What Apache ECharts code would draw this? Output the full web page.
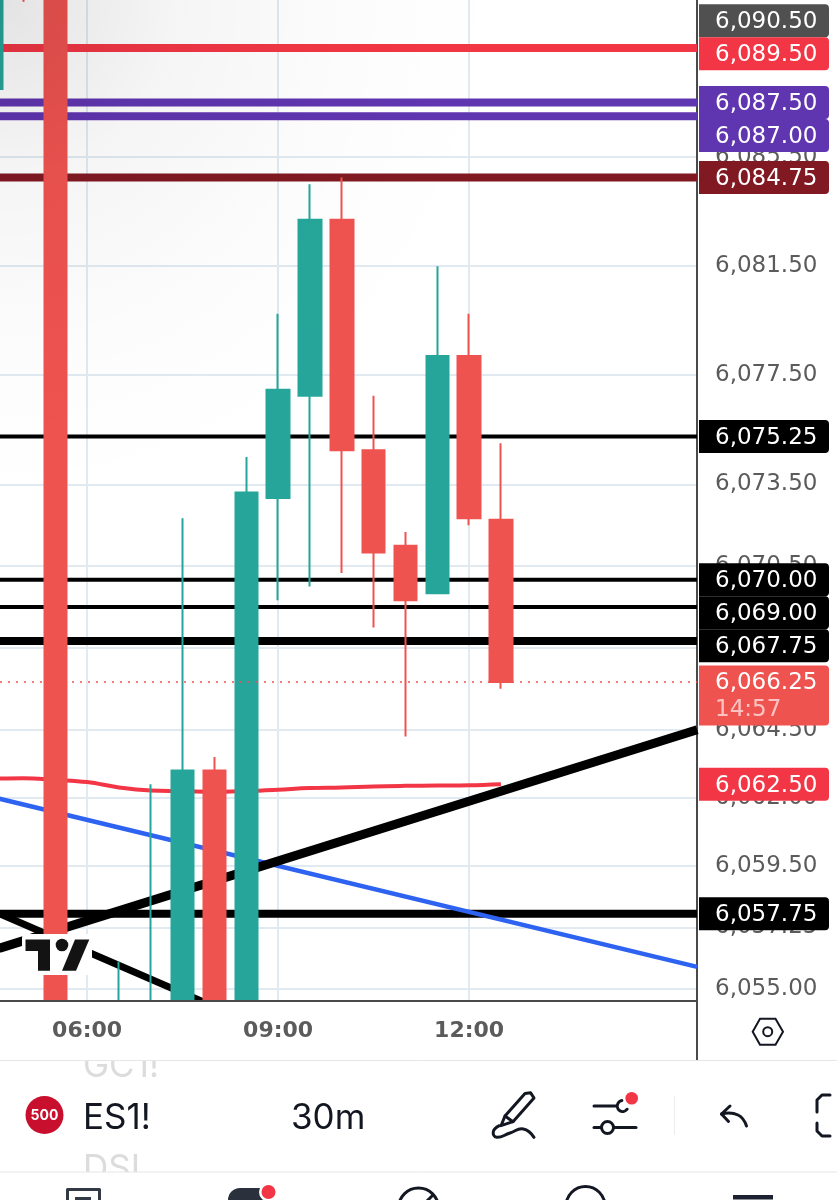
<!DOCTYPE html>
<html><head><meta charset="utf-8">
<style>html,body{margin:0;padding:0;background:#fff}#c{width:837px;height:1200px}</style>
<script src="https://cdn.jsdelivr.net/npm/echarts@6/dist/echarts.min.js"></script>
</head><body><div id="c"></div>
<script>
// ---- data ----
const times  = ['04:30','05:00','05:30','06:00','06:30','07:00','07:30','08:00','08:30','09:00','09:30','10:00','10:30','11:00','11:30','12:00','12:30'];
const opens  = [6088.0,6094.0,6091.25,6048.0,6053.0,6053.0,6053.0,6063.0,6053.0,6073.0,6076.75,6083.2,6074.75,6071.25,6069.5,6078.2,6072.2];
const closes = [6095.0,6092.5,6053.0,6046.0,6053.5,6053.5,6063.0,6053.0,6073.2,6076.97,6083.2,6074.75,6071.0,6069.25,6078.2,6072.25,6066.25];
const lows   = [6087.0,6091.2,6053.0,6045.0,6053.0,6053.0,6053.0,6053.0,6053.0,6069.25,6069.75,6070.25,6068.25,6064.25,6069.5,6072.0,6066.0];
const highs  = [6097.0,6095.0,6091.25,6049.0,6056.0,6062.5,6072.25,6063.5,6074.5,6079.75,6084.5,6084.75,6076.75,6071.75,6081.5,6079.75,6075.0];
const maLine = [6062.7,6062.72,6062.66,6062.58,6062.38,6062.27,6062.25,6062.22,6062.25,6062.3,6062.36,6062.38,6062.42,6062.44,6062.45,6062.46,6062.5];

const levelValues = [6089.5,6087.5,6087.0,6084.75,6075.25,6070.0,6069.0,6067.75,6057.75];
const levelColors = ['#f23645','#6035b0','#6035b0','#801922','#000','#000','#000','#000','#000'];
const levelWidths = [8,8,8,8,4,4,4,8,8];
const lastPrice = 6066.25;
const lastCountdown = '14:57';

const trendBlue  = [['04:37',6061.97],['15:35',6055.8]];
const trendUp    = [['04:37',6056.48],['15:35',6064.5]];
const trendDown  = [['04:37',6057.76],['08:00.6',6054.33]];

const priceTicks = [6085.5,6081.5,6077.5,6073.5,6070.5,6067.5,6064.5,6062.0,6059.5,6057.25,6055.0];
const timeTicks  = ['06:00','09:00','12:00'];

const tagValues  = [6090.5,6089.5,6087.5,6087.0,6084.75,6075.25,6070.0,6069.0,6067.75,6066.25,6062.5,6057.75];
const tagColors  = ['#505050','#f23645','#6035b0','#6035b0','#801922','#000','#000','#000','#000','#ef5350','#f23645','#000'];

// ---- scales ----
const toMin = s => { const p = s.split(':'); return +p[0]*60 + parseFloat(p[1]); };
const xMin = 277.9, xMax = 934.8, yMin = 6054.55, yMax = 6091.26;
const fmtPrice = v => v.toLocaleString('en-US',{minimumFractionDigits:2,maximumFractionDigits:2});
const fmtTime = m => String(Math.floor(m/60)).padStart(2,'0')+':'+String(m%60).padStart(2,'0');
const UI = 'Inter, "Liberation Sans", sans-serif';
const NUM = '"DejaVu Sans", sans-serif';
const INK = '#131722', TICK = '#5b5b5b', GRID = '#e1e9f1';

const candleData = times.map((t,i)=>[toMin(t),opens[i],closes[i],lows[i],highs[i]]);
const lineSeries = (data,color,width,extra) => Object.assign({type:'line',data,symbol:'none',silent:true,z:1,
  lineStyle:{color,width,cap:'butt'},animation:false},extra||{});
const conv = arr => arr.map(p=>[toMin(p[0]),p[1]]);

const series = [];
levelValues.forEach((v,i)=>series.push(lineSeries([[xMin,v],[xMax,v]],levelColors[i],levelWidths[i])));
series.push(lineSeries(conv(trendBlue),'#2d63f0',4.5));
series.push(lineSeries(conv(trendDown),'#000',7));
series.push(lineSeries(conv(trendUp),'#000',9));
series.push(lineSeries(times.map((t,i)=>[toMin(t),maLine[i]]),'#f23645',4,{smooth:0.4}));
series.push({type:'candlestick',data:candleData,encode:{x:0,y:[1,2,3,4]},barWidth:23,z:3,silent:true,
  itemStyle:{color:'#26a69a',color0:'#ef5350',borderColor:'#26a69a',borderColor0:'#ef5350',borderWidth:2}});
series.push(lineSeries([[xMin,lastPrice],[xMax,lastPrice]],'#ef5350',1.5,{z:4,lineStyle:{color:'#ef5350',width:1.5,type:[2,6]}}));

// price tags: pushed down so they never overlap the tag above, as on the platform's scale
let nextFree = -1e9;
series.push({type:'custom',z:6,silent:true,clip:false,
  data:tagValues.map(v=>[xMax,v]),encode:{x:0,y:1},
  renderItem(params,api){
    if(params.dataIndex===0) nextFree=-1e9;
    const v=api.value(1), p=api.coord([xMax,v]);
    const cy=Math.max(p[1],nextFree+16.5);
    const isLast=v===lastPrice;
    nextFree=cy+16.5;
    const top=cy-16.5, h=isLast?60:33;
    const x=p[0]+2;
    const kids=[
      {type:'rect',shape:{x,y:top,width:130,height:h,r:[0,4,4,0]},style:{fill:tagColors[params.dataIndex]}},
      {type:'text',style:{x:715,y:cy+1.5,text:fmtPrice(v),fill:'#fff',font:'23px '+NUM,align:'left',verticalAlign:'middle'}}
    ];
    if(isLast) kids.push({type:'text',style:{x:715,y:cy+28,text:lastCountdown,fill:'#fbc4c2',font:'23px '+NUM,align:'left',verticalAlign:'middle'}});
    return {type:'group',children:kids};
  }});

// ---- chrome (app toolbar, logo) ----
const stroke=(w,c)=>({stroke:c||INK,lineWidth:w,fill:null,lineCap:'round',lineJoin:'round'});
const poly=(points,w,c,smooth)=>({type:'polyline',shape:{points,smooth:smooth||0},style:stroke(w,c),z:20});
const text=(x,y,t,font,fill,align)=>({type:'text',z:20,x,y,style:{text:t,font,fill,textAlign:align||'left',textVerticalAlign:'middle'}});
const graphicEls=[
  // bars running past the bottom of the plot end at the axis
  {type:'rect',z:5,silent:true,shape:{x:0,y:1001,width:696,height:59},style:{fill:'#fff'}},
  {type:'rect',z:19,shape:{x:0,y:0,width:697,height:560},silent:true,style:{fill:new echarts.graphic.RadialGradient(0,0,500,[{offset:0,color:'rgba(0,0,0,0.11)'},{offset:0.35,color:'rgba(0,0,0,0.04)'},{offset:0.7,color:'rgba(0,0,0,0.012)'},{offset:1,color:'rgba(0,0,0,0)'}],true)}},
  // logo
  {type:'rect',z:20,shape:{x:22,y:934,width:70,height:41,r:4},style:{fill:'#fff'}},
  {type:'polygon',z:21,shape:{points:[[25.5,939.5],[50,939.5],[50,970.7],[38,970.7],[38,951],[25.5,951]]},style:{fill:'#131313'}},
  {type:'circle',z:21,shape:{cx:62,cy:945,r:6.3},style:{fill:'#131313'}},
  {type:'polygon',z:21,shape:{points:[[75,939.5],[89.3,939.5],[76,970.7],[62,970.7]]},style:{fill:'#131313'}},
  // axis extension + hexagon
  {type:'line',z:20,shape:{x1:697,y1:1001,x2:697,y2:1060},style:{stroke:'#4a4a4a',lineWidth:2}},
  {type:'polygon',z:20,shape:{points:[[752.7,1031.7],[760,1018.7],[775.5,1018.7],[783,1031.7],[775.5,1044.7],[760,1044.7]]},style:{stroke:INK,lineWidth:2,fill:null}},
  {type:'circle',z:20,shape:{cx:767.7,cy:1031.7,r:4.5},style:{stroke:INK,lineWidth:2,fill:null}},
  // faded list names, clipped by the toolbar rules
  text(83,1066,'GC1!','35px '+UI,'#dcdcdc'),
  {type:'rect',z:21,shape:{x:70,y:1044,width:100,height:16},style:{fill:'#fff'}},
  text(83,1169,'DSI','35px '+UI,'#dcdcdc'),
  {type:'rect',z:21,shape:{x:70,y:1172,width:100,height:16},style:{fill:'#fff'}},
  {type:'line',z:22,shape:{x1:0,y1:1060.5,x2:837,y2:1060.5},style:{stroke:'#e6e6e6',lineWidth:1}},
  {type:'line',z:22,shape:{x1:0,y1:1172,x2:837,y2:1172},style:{stroke:'#e6e6e6',lineWidth:1}},
  // symbol row
  {type:'circle',z:20,shape:{cx:44.5,cy:1115,r:19},style:{fill:'#c8102e'}},
  text(44.5,1115.5,'500','bold 14px '+UI,'#fff','center'),
  text(83,1118,'ES1!','35px '+UI,INK),
  text(291,1118,'30m','35px '+UI,INK),
  // pencil
  poly([[505,1116],[525,1093.5],[530.5,1092.7],[534,1098],[513,1121.7],[501,1125.7],[505,1116]],3),
  poly([[505,1116],[513,1121.7]],3),
  poly([[499.3,1125.7],[493.3,1131.7],[496.7,1137.3],[510,1133],[523.3,1129],[534,1137.3]],3,INK,0.5),
  // sliders
  poly([[594,1106],[616,1106]],3),
  {type:'arc',z:20,shape:{cx:622.7,cy:1106,r:5.5,startAngle:Math.PI*0.2,endAngle:Math.PI*1.45,clockwise:true},style:stroke(3)},
  {type:'circle',z:21,shape:{cx:631.7,cy:1098.3,r:6.3},style:{fill:'#f23645'}},
  poly([[594,1127.5],[636,1127.5]],3),
  {type:'circle',z:21,shape:{cx:607.5,cy:1127.5,r:6},style:{fill:'#fff',stroke:INK,lineWidth:3}},
  {type:'line',z:20,shape:{x1:674.5,y1:1096,x2:674.5,y2:1135},style:{stroke:'#ececec',lineWidth:1}},
  // undo
  poly([[730,1106],[721.5,1114],[728.5,1121.5]],3),
  poly([[721.5,1114],[738,1115],[746.5,1126]],3,INK,0.5),
  // bracket
  poly([[830,1095],[822,1095],[817,1100],[817,1112]],3),
  poly([[817,1123],[817,1131],[822,1136],[830,1136]],3),
  // tab bar, cut off by the bottom of the image
  poly([[67.5,1204],[67.5,1189.5],[99.5,1189.5],[99.5,1204]],3,'#333a45'),
  {type:'rect',z:20,shape:{x:75,y:1197,width:16,height:7},style:{fill:'#333a45'}},
  {type:'rect',z:20,shape:{x:228,y:1188,width:36,height:24,r:[12,4,0,12]},style:{fill:'#2a303c'}},
  {type:'circle',z:21,shape:{cx:268.5,cy:1192,r:9.5},style:{fill:'#fff'}},
  {type:'circle',z:22,shape:{cx:268.5,cy:1192,r:7},style:{fill:'#f23645'}},
  {type:'circle',z:20,shape:{cx:418.5,cy:1208,r:20},style:stroke(3)},
  poly([[424,1204],[433,1195]],3),
  {type:'circle',z:20,shape:{cx:585.5,cy:1206,r:19.5},style:stroke(3)},
  {type:'rect',z:20,shape:{x:733,y:1195,width:40,height:4.5},style:{fill:'#1c2230'}}
];

const chart = echarts.init(document.getElementById('c'),null,{renderer:'canvas'});
chart.setOption({
  animation:false,
  backgroundColor:'#fff',
  grid:{left:0,right:140,top:0,bottom:199,containLabel:false},
  xAxis:[
    {type:'value',min:xMin,max:xMax,position:'bottom',
      axisLine:{show:false},axisLabel:{show:false},
      axisTick:{show:false,customValues:timeTicks.map(toMin)},
      splitLine:{show:true,lineStyle:{color:GRID,width:2}}},
    {type:'value',min:xMin,max:xMax,position:'bottom',z:10,offset:0,
      axisLine:{show:true,onZero:false,lineStyle:{color:'#4a4a4a',width:2}},
      axisTick:{show:false,customValues:timeTicks.map(toMin)},
      axisLabel:{customValues:timeTicks.map(toMin),formatter:fmtTime,margin:19,color:TICK,fontFamily:NUM,fontWeight:700,fontSize:22,hideOverlap:false},
      splitLine:{show:false}}
  ],
  yAxis:{type:'value',min:yMin,max:yMax,position:'right',scale:true,
    axisLine:{show:true,onZero:false,lineStyle:{color:'#4a4a4a',width:2}},
    axisTick:{show:false,customValues:priceTicks},
    axisLabel:{customValues:priceTicks,formatter:fmtPrice,margin:18,padding:[3,0,0,0],color:TICK,fontFamily:NUM,fontSize:23,align:'left',hideOverlap:false},
    splitLine:{show:true,lineStyle:{color:GRID,width:2}}},
  series,
  graphic:{elements:graphicEls}
});
</script></body></html>
